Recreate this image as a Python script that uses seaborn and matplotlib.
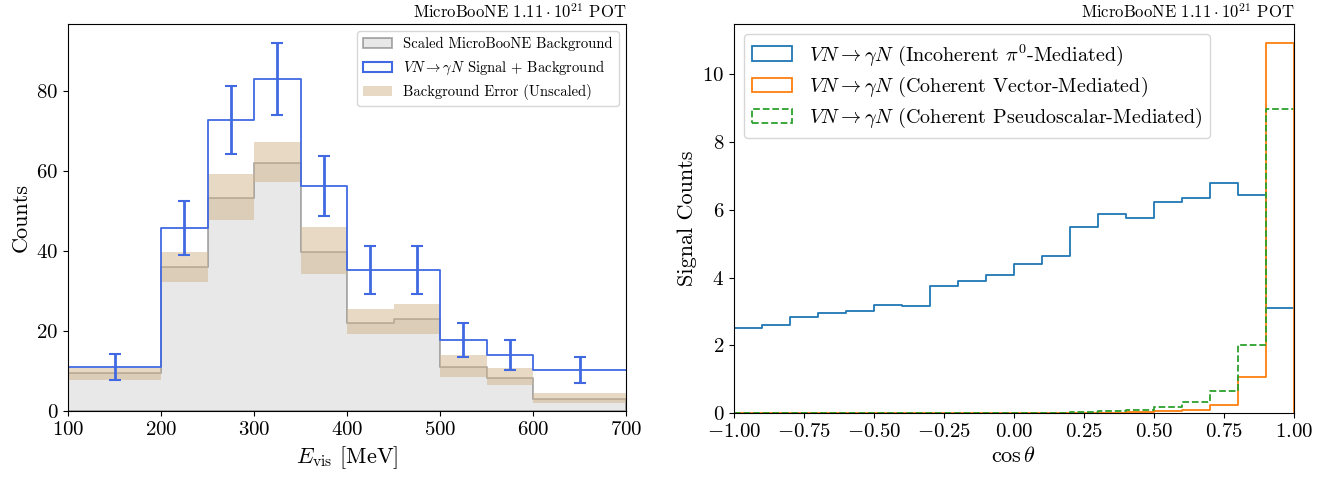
import numpy as np
import pandas as pd
import matplotlib
matplotlib.use("Agg")
import matplotlib.pyplot as plt
import seaborn as sns
from matplotlib.patches import Patch

# ---------------- data ----------------
# Left panel: visible energy [MeV]
e_edges = [100, 200, 250, 300, 350, 400, 450, 500, 550, 600, 700]
bkg_scaled = [9.6, 36.0, 53.3, 62.1, 39.75, 22.1, 23.0, 11.1, 8.2, 3.1]
sig_plus_bkg = [11.0, 45.8, 72.8, 83.0, 56.25, 35.25, 35.25, 17.75, 14.0, 10.3]
sig_err = [3.3, 6.8, 8.5, 9.1, 7.5, 5.95, 5.95, 4.2, 3.7, 3.2]
bkg_err_lo = [7.7, 32.2, 47.7, 57.2, 34.2, 19.25, 19.25, 8.4, 6.5, 1.9]
bkg_err_hi = [10.75, 39.8, 59.2, 67.2, 45.9, 25.4, 26.7, 13.9, 10.7, 4.4]

# Right panel: cos(theta)
c_edges = [-1.0, -0.9, -0.8, -0.7, -0.6, -0.5, -0.4, -0.3, -0.2, -0.1, 0.0,
           0.1, 0.2, 0.3, 0.4, 0.5, 0.6, 0.7, 0.8, 0.9, 1.0]
incoh_pi0 = [2.51, 2.60, 2.82, 2.96, 3.00, 3.20, 3.16, 3.75, 3.90, 4.08,
             4.41, 4.63, 5.49, 5.89, 5.77, 6.24, 6.36, 6.80, 6.44, 3.11]
coh_vector = [0, 0, 0, 0, 0, 0, 0, 0, 0, 0,
              0, 0, 0, 0.005, 0.02, 0.05, 0.10, 0.25, 1.05, 10.94]
coh_pseudo = [0, 0, 0, 0, 0, 0, 0, 0, 0, 0.003,
              0.008, 0.012, 0.02, 0.05, 0.10, 0.17, 0.31, 0.65, 2.02, 8.99]

title_txt = r"MicroBooNE $1.11\cdot10^{21}$ POT"

# ---------------- style ----------------
plt.rcParams.update({
    "font.family": "serif",
    "font.serif": ["cmr10", "DejaVu Serif"],
    "mathtext.fontset": "cm",
    "axes.formatter.use_mathtext": True,
    "axes.unicode_minus": True,
})

fig = plt.figure(figsize=(13.36, 4.78), dpi=100)
ax1 = fig.add_axes([0.0509, 0.140, 0.4177, 0.810])
ax2 = fig.add_axes([0.5494, 0.136, 0.4192, 0.814])

gray_face = (0.827, 0.827, 0.827, 0.5)
gray_edge = (0.35, 0.35, 0.35, 0.5)

# ---------------- left panel ----------------
e_edges_a = np.array(e_edges, dtype=float)
e_centers = 0.5 * (e_edges_a[:-1] + e_edges_a[1:])
df_left = pd.DataFrame({"E": e_centers, "bkg": bkg_scaled, "sig": sig_plus_bkg})

sns.histplot(data=df_left, x="E", weights="bkg", bins=e_edges, element="step",
             fill=True, facecolor=gray_face, edgecolor=gray_edge,
             linewidth=1.3, ax=ax1)
sns.histplot(data=df_left, x="E", weights="sig", bins=e_edges, element="step",
             fill=False, color="royalblue", linewidth=1.3, ax=ax1)

lo = np.append(bkg_err_lo, bkg_err_lo[-1])
hi = np.append(bkg_err_hi, bkg_err_hi[-1])
ax1.fill_between(e_edges_a, lo, hi, step="post", color="tan", alpha=0.5,
                 linewidth=0)
ax1.errorbar(e_centers, sig_plus_bkg, yerr=sig_err, fmt="none",
             ecolor="royalblue", elinewidth=2, capsize=4, capthick=1.5)

ax1.set_xlim(100, 700)
ax1.set_ylim(0, 96.75)
ax1.set_xlabel(r"$E_{\rm vis}$ [MeV]", fontsize=16)
ax1.set_ylabel("Counts", fontsize=16)
ax1.tick_params(labelsize=15)
ax1.set_title(title_txt, loc="right", fontsize=12, pad=4)

h_left = [
    Patch(facecolor=gray_face, edgecolor=gray_edge, linewidth=1.3),
    Patch(facecolor="none", edgecolor="royalblue", linewidth=1.5),
    Patch(facecolor="tan", alpha=0.5, linewidth=0),
]
l_left = ["Scaled MicroBooNE Background",
          r"$VN\rightarrow\gamma N$ Signal + Background",
          "Background Error (Unscaled)"]
ax1.legend(h_left, l_left, loc="upper right", fontsize=10.5, framealpha=0.8)

# ---------------- right panel ----------------
c_edges_a = np.array(c_edges, dtype=float)
c_centers = 0.5 * (c_edges_a[:-1] + c_edges_a[1:])
df_right = pd.DataFrame({"c": c_centers, "incoh": incoh_pi0,
                         "vec": coh_vector, "ps": coh_pseudo})

sns.histplot(data=df_right, x="c", weights="incoh", bins=c_edges, element="step",
             fill=False, color="C0", linewidth=1.3, ax=ax2)
sns.histplot(data=df_right, x="c", weights="vec", bins=c_edges, element="step",
             fill=False, color="C1", linewidth=1.3, ax=ax2)
sns.histplot(data=df_right, x="c", weights="ps", bins=c_edges, element="step",
             fill=False, color="C2", linewidth=1.3, linestyle="--", ax=ax2)

# vertical drops at the ends of the histograms (as in a matplotlib step hist)
ax2.vlines([1.0], 0, [max(coh_vector[-1], incoh_pi0[-1])], color="C1", linewidth=1.3)
ax2.vlines([-1.0], 0, [incoh_pi0[0]], color="C0", linewidth=1.3)

ax2.set_xlim(-1, 1)
ax2.set_ylim(0, 11.49)
ax2.set_xlabel(r"$\cos\theta$", fontsize=16)
ax2.set_ylabel("Signal Counts", fontsize=16)
ax2.tick_params(labelsize=15)
ax2.set_title(title_txt, loc="right", fontsize=12, pad=4)

h_right = [
    Patch(facecolor="none", edgecolor="C0", linewidth=1.3),
    Patch(facecolor="none", edgecolor="C1", linewidth=1.3),
    Patch(facecolor="none", edgecolor="C2", linewidth=1.3, linestyle="--"),
]
l_right = [r"$VN\rightarrow\gamma N$ (Incoherent $\pi^0$-Mediated)",
           r"$VN\rightarrow\gamma N$ (Coherent Vector-Mediated)",
           r"$VN\rightarrow\gamma N$ (Coherent Pseudoscalar-Mediated)"]
ax2.legend(h_right, l_right, loc="upper left", fontsize=14.5, framealpha=0.8,
           labelspacing=0.35)

fig.savefig("out.png", dpi=100)
